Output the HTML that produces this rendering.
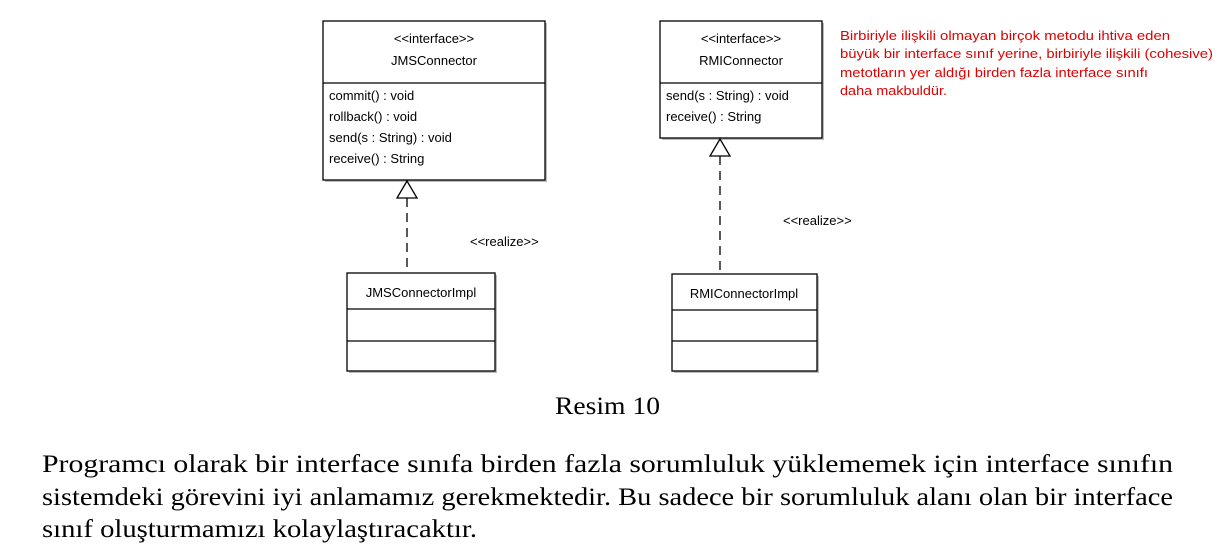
<!DOCTYPE html>
<html><head><meta charset="utf-8"><style>
html,body{margin:0;padding:0;background:#fff;width:1219px;height:560px;overflow:hidden}
svg{display:block}
.u{font-family:"Liberation Sans",sans-serif;font-size:13px;fill:#000}
.r{font-family:"Liberation Sans",sans-serif;font-size:12.5px;fill:#e00000}
.s{font-family:"Liberation Serif",serif;font-size:25px;fill:#000}
</style></head><body>
<svg width="1219" height="560" xmlns="http://www.w3.org/2000/svg">
<g fill="#bbb">
<rect x="325" y="23" width="222" height="159"/>
<rect x="662" y="23" width="162" height="117"/>
<rect x="349" y="275" width="148" height="98"/>
<rect x="674" y="276" width="145" height="97"/>
</g>
<g fill="#fff" stroke="#000" stroke-width="1.3">
<rect x="323" y="21" width="222" height="159"/>
<line x1="323" y1="83" x2="545" y2="83"/>
<rect x="660" y="21" width="162" height="117"/>
<line x1="660" y1="83" x2="822" y2="83"/>
<rect x="347" y="273" width="148" height="98"/>
<line x1="347" y1="309" x2="495" y2="309"/>
<line x1="347" y1="341" x2="495" y2="341"/>
<rect x="672" y="274" width="145" height="97"/>
<line x1="672" y1="310" x2="817" y2="310"/>
<line x1="672" y1="341" x2="817" y2="341"/>
<line x1="407" y1="198" x2="407" y2="273" stroke-dasharray="9,6"/>
<line x1="720" y1="156" x2="720" y2="274" stroke-dasharray="9,6"/>
<polygon points="407,181 397,198 417,198"/>
<polygon points="720,139 710,156 730,156"/>
</g>
<g class="u">
<text x="434" y="43" text-anchor="middle">&lt;&lt;interface&gt;&gt;</text>
<text x="434" y="65" text-anchor="middle">JMSConnector</text>
<text x="329" y="100">commit() : void</text>
<text x="329" y="121">rollback() : void</text>
<text x="329" y="142">send(s : String) : void</text>
<text x="329" y="163">receive() : String</text>
<text x="741" y="43" text-anchor="middle">&lt;&lt;interface&gt;&gt;</text>
<text x="741" y="65" text-anchor="middle">RMIConnector</text>
<text x="666" y="100">send(s : String) : void</text>
<text x="666" y="121">receive() : String</text>
<text x="421" y="297" text-anchor="middle">JMSConnectorImpl</text>
<text x="744" y="298" text-anchor="middle">RMIConnectorImpl</text>
<text x="470" y="246">&lt;&lt;realize&gt;&gt;</text>
<text x="783" y="225">&lt;&lt;realize&gt;&gt;</text>
</g>
<g class="r">
<text x="840" y="40" textLength="330" lengthAdjust="spacingAndGlyphs">Birbiriyle ilişkili olmayan birçok metodu ihtiva eden</text>
<text x="840" y="58" textLength="373" lengthAdjust="spacingAndGlyphs">büyük bir interface sınıf yerine, birbiriyle ilişkili (cohesive)</text>
<text x="840" y="77" textLength="308" lengthAdjust="spacingAndGlyphs">metotların yer aldığı birden fazla interface sınıfı</text>
<text x="840" y="95" textLength="107" lengthAdjust="spacingAndGlyphs">daha makbuldür.</text>
</g>
<g class="s">
<text x="555" y="414" textLength="105" lengthAdjust="spacingAndGlyphs">Resim 10</text>
<text x="42" y="472" textLength="1131" lengthAdjust="spacingAndGlyphs">Programcı olarak bir interface sınıfa birden fazla sorumluluk yüklememek için interface sınıfın</text>
<text x="42" y="505" textLength="1131" lengthAdjust="spacingAndGlyphs">sistemdeki görevini iyi anlamamız gerekmektedir. Bu sadece bir sorumluluk alanı olan bir interface</text>
<text x="42" y="537" textLength="435" lengthAdjust="spacingAndGlyphs">sınıf oluşturmamızı kolaylaştıracaktır.</text>
</g>
</svg>
</body></html>
